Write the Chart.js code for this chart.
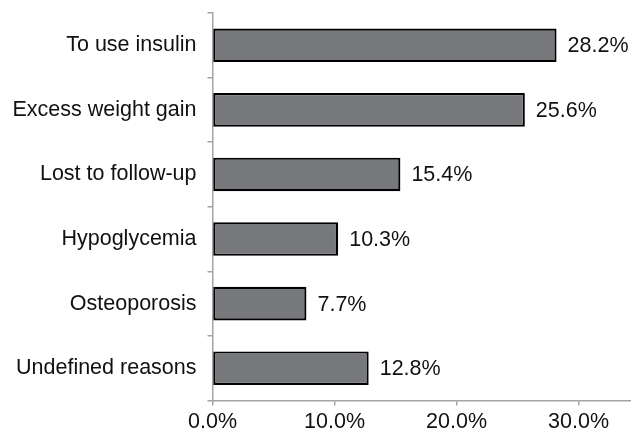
<!DOCTYPE html>
<html>
<head>
<meta charset="utf-8">
<script src="https://cdn.jsdelivr.net/npm/chart.js@4.4.1/dist/chart.umd.min.js"></script>
<style>
  html, body { margin: 0; padding: 0; background: #fff; }
  #wrap { width: 631px; height: 436px; position: relative; }
</style>
</head>
<body>
<div id="wrap"><canvas id="c"></canvas></div>
<script>
const categories = ["To use insulin", "Excess weight gain", "Lost to follow-up", "Hypoglycemia", "Osteoporosis", "Undefined reasons"];
const values = [28.2, 25.6, 15.4, 10.3, 7.7, 12.8];
const xTicks = [0, 10, 20, 30];
const xMax = 34.3;

const FONT = "'Liberation Sans', Arial, sans-serif";
const FSIZE = 21.5;
const AXIS = '#a3a3a3';

const valueLabels = {
  id: 'valueLabels',
  afterDatasetsDraw(chart) {
    const ctx = chart.ctx;
    const meta = chart.getDatasetMeta(0);
    ctx.save();
    ctx.font = FSIZE + 'px ' + FONT;
    ctx.fillStyle = '#111';
    ctx.textAlign = 'left';
    ctx.textBaseline = 'middle';
    meta.data.forEach((bar, i) => {
      ctx.fillText(values[i].toFixed(1) + '%', bar.x + 11, bar.y + 1);
    });
    ctx.restore();
  }
};

new Chart(document.getElementById('c'), {
  type: 'bar',
  data: {
    labels: categories,
    datasets: [{
      data: values,
      backgroundColor: '#77787b',
      borderColor: '#000',
      borderWidth: 2.2,
      borderSkipped: false,
      barPercentage: 0.52,
      categoryPercentage: 1.0
    }]
  },
  options: {
    indexAxis: 'y',
    responsive: true,
    maintainAspectRatio: false,
    animation: false,
    layout: { padding: { top: 13, left: 0, right: 0, bottom: 0 } },
    plugins: { legend: { display: false }, tooltip: { enabled: false } },
    scales: {
      x: {
        min: 0,
        max: xMax,
        afterBuildTicks(scale) { scale.ticks = xTicks.map(v => ({ value: v })); },
        afterFit(scale) { scale.height = 35.5; scale.paddingLeft = 0; scale.paddingRight = 0; },
        grid: { drawOnChartArea: false, drawTicks: true, tickLength: 5, color: AXIS, lineWidth: 1.5 },
        border: { color: AXIS, width: 1.5 },
        ticks: {
          font: { family: FONT, size: FSIZE },
          color: '#111',
          padding: 4,
          maxRotation: 0,
          callback: v => Number(v).toFixed(1) + '%'
        }
      },
      y: {
        afterFit(scale) { scale.width = 212.5; scale.paddingTop = 0; scale.paddingBottom = 0; },
        grid: { offset: true, drawOnChartArea: false, drawTicks: true, tickLength: 5, color: AXIS, lineWidth: 1.5 },
        border: { color: AXIS, width: 1.5 },
        ticks: {
          font: { family: FONT, size: FSIZE },
          color: '#111',
          padding: 11
        }
      }
    }
  },
  plugins: [valueLabels]
});
</script>
</body>
</html>
